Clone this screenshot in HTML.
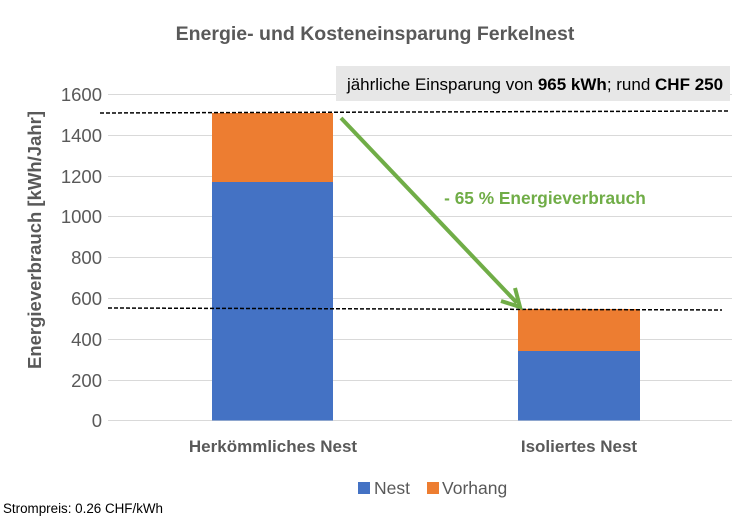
<!DOCTYPE html>
<html><head><meta charset="utf-8"><style>
body{margin:0;background:#fff;}
svg{display:block;font-family:"Liberation Sans",sans-serif;}
</style></head><body>
<svg width="751" height="526" viewBox="0 0 751 526" xmlns="http://www.w3.org/2000/svg">
<rect width="751" height="526" fill="#fff"/>
<text x="375" y="40" text-anchor="middle" font-size="19.5" font-weight="bold" fill="#595959">Energie- und Kosteneinsparung Ferkelnest</text>
<g stroke="#d9d9d9" stroke-width="1">
<line x1="108" y1="94.5" x2="732" y2="94.5"/>
<line x1="108" y1="135.5" x2="732" y2="135.5"/>
<line x1="108" y1="176.5" x2="732" y2="176.5"/>
<line x1="108" y1="216.5" x2="732" y2="216.5"/>
<line x1="108" y1="257.5" x2="732" y2="257.5"/>
<line x1="108" y1="298.5" x2="732" y2="298.5"/>
<line x1="108" y1="339.5" x2="732" y2="339.5"/>
<line x1="108" y1="380.5" x2="732" y2="380.5"/>
<line x1="108" y1="420.5" x2="732" y2="420.5"/>
</g>
<g font-size="18.5" fill="#595959" text-anchor="end">
<text x="102" y="101">1600</text><text x="102" y="142">1400</text><text x="102" y="183">1200</text>
<text x="102" y="223">1000</text><text x="102" y="264">800</text><text x="102" y="305">600</text>
<text x="102" y="346">400</text><text x="102" y="387">200</text><text x="102" y="427">0</text>
</g>
<text transform="translate(41,240) rotate(-90)" text-anchor="middle" font-size="18.5" font-weight="bold" fill="#595959">Energieverbrauch [kWh/Jahr]</text>
<rect x="212" y="182" width="121" height="238.5" fill="#4472c4"/>
<rect x="212" y="113" width="121" height="69" fill="#ed7d31"/>
<rect x="518" y="351" width="122" height="69.5" fill="#4472c4"/>
<rect x="518" y="309" width="122" height="42" fill="#ed7d31"/>
<rect x="336" y="66" width="394" height="35" fill="#e7e7e7"/>
<text x="535" y="90" text-anchor="middle" font-size="17" fill="#000">jährliche Einsparung von <tspan font-weight="bold">965 kWh</tspan>; rund <tspan font-weight="bold">CHF 250</tspan></text>
<line x1="100" y1="113" x2="730" y2="111" stroke="#000" stroke-width="1.5" stroke-dasharray="4,2"/>
<line x1="108" y1="308" x2="722" y2="310" stroke="#000" stroke-width="1.5" stroke-dasharray="4,2"/>
<line x1="341" y1="118" x2="517" y2="303" stroke="#70ad47" stroke-width="4"/>
<polyline points="501,301 520,307 515,288" fill="none" stroke="#70ad47" stroke-width="4"/>
<text x="545" y="204" text-anchor="middle" font-size="17.3" font-weight="bold" fill="#70ad47">- 65 % Energieverbrauch</text>
<text x="273" y="452" text-anchor="middle" font-size="17" font-weight="bold" fill="#595959">Herkömmliches Nest</text>
<text x="579" y="452" text-anchor="middle" font-size="17" font-weight="bold" fill="#595959">Isoliertes Nest</text>
<rect x="358" y="482" width="12" height="12" fill="#4472c4"/>
<text x="374" y="494" font-size="17.5" fill="#595959">Nest</text>
<rect x="427" y="482" width="12" height="12" fill="#ed7d31"/>
<text x="442" y="494" font-size="17.5" fill="#595959">Vorhang</text>
<text x="3" y="513" font-size="13.4" fill="#000">Strompreis: 0.26 CHF/kWh</text>
</svg>
</body></html>
